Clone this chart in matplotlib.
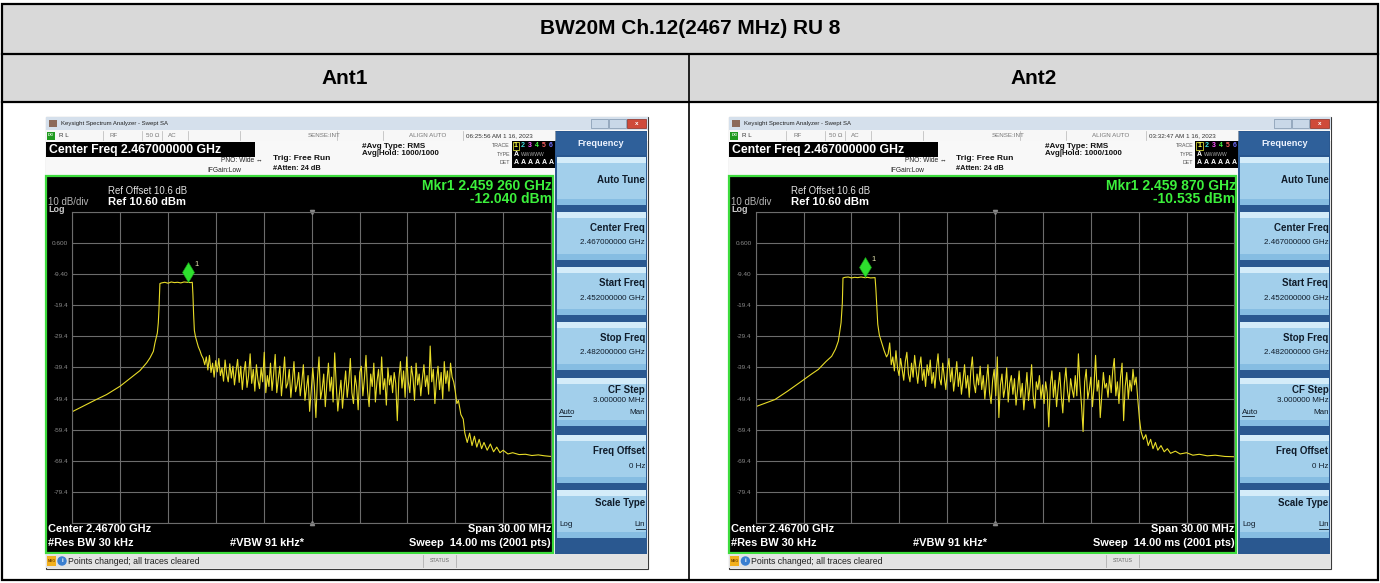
import numpy as np
import matplotlib.pyplot as plt
from matplotlib.patches import Rectangle, Circle
from matplotlib.transforms import offset_copy

plt.rcParams['font.family'] = ['Liberation Sans', 'DejaVu Sans']

W, H = 1380, 583

TITLE = 'BW20M Ch.12(2467 MHz) RU 8'
ANT_NAMES = ['Ant1', 'Ant2']

# analyzer settings shown on screen
F_START, F_STOP = 2452.0, 2482.0          # MHz
REF_LEVEL, DB_DIV = 10.6, 10.0
Y_TICKS = [10.6, 0.6, -9.4, -19.4, -29.4, -39.4, -49.4, -59.4, -69.4, -79.4, -89.4]
Y_TICK_LABELS = ['', '0.600', '-9.40', '-19.4', '-29.4', '-39.4', '-49.4',
                 '-59.4', '-69.4', '-79.4', '']
SOFTKEYS = [('Auto Tune', None), ('Center Freq', '2.467000000 GHz'),
            ('Start Freq', '2.452000000 GHz'), ('Stop Freq', '2.482000000 GHz'),
            ('CF Step', '3.000000 MHz'), ('Freq Offset', '0 Hz'),
            ('Scale Type', None)]

# ---- Ant1 trace (MHz, dBm) ----
ANT1_EDGE_F = [2452.0, 2453.0, 2453.5, 2454.15, 2455.0, 2455.8, 2456.24, 2456.66,
               2456.87, 2457.08, 2457.18, 2457.33, 2457.39, 2457.43, 2457.49, 2457.6,
               2457.8, 2458.0, 2458.2, 2458.4, 2458.6, 2458.8, 2459.0, 2459.26,
               2459.4, 2459.52, 2459.56, 2459.6, 2459.65, 2459.72, 2459.8, 2459.9,
               2460.0, 2460.1, 2460.2]
ANT1_EDGE_L = [-53.6, -51.0, -49.7, -48.1, -45.4, -42.2, -40.4, -37.9,
               -36.3, -34.2, -31.5, -28.3, -25.0, -20.8, -12.4, -12.2,
               -12.0, -12.3, -11.9, -12.1, -12.0, -12.2, -11.9, -12.04,
               -12.1, -12.0, -16.0, -22.0, -27.5, -29.5, -31.0, -32.8,
               -34.0, -35.5, -36.5]
ANT1_NOISE_SPAN = (2460.3, 2475.9)
ANT1_NOISE_L = [
    -38.5, -36.0, -40.2, -35.5, -41.0, -38.0, -42.5, -37.2, -40.8, -36.5,
    -42.0, -39.5, -43.8, -37.0, -41.5, -44.0, -38.2, -42.8, -39.0, -45.0,
    -40.5, -36.8, -44.2, -39.0, -46.5, -41.0, -37.5, -45.8, -42.0, -35.0,
    -44.5, -40.0, -47.0, -38.5, -43.5, -46.2, -39.5, -44.0, -34.5, -47.5,
    -42.0, -45.5, -38.0, -46.8, -41.5, -35.2, -47.5, -43.0, -39.0, -48.5,
    -42.5, -36.0, -46.0, -44.5, -40.0, -49.0, -43.5, -37.5, -47.2, -45.0,
    -41.0, -48.5, -44.0, -38.5, -50.0, -46.0, -42.0, -53.5, -47.0, -39.5,
    -45.5, -55.5, -43.0, -36.0, -49.5, -46.5, -41.5, -52.0, -44.5, -38.0,
    -47.0, -42.5, -50.5, -34.7, -45.0, -53.4, -48.0, -43.5, -52.5, -46.0,
    -40.5, -49.0, -44.0, -36.5, -47.5, -51.0, -42.0, -45.5, -53.0, -41.0,
    -39.0, -48.5, -43.0, -35.5, -47.0, -52.0, -41.5, -45.5, -38.0, -50.5,
    -44.0, -40.0, -48.0, -36.0, -46.5, -43.0, -51.5, -39.5, -45.0, -42.0,
    -47.5, -41.0, -44.5, -56.5, -43.0, -37.5, -46.0, -40.5, -49.0, -36.0,
    -44.0, -47.5, -39.0, -42.5, -50.0, -38.0, -45.0, -41.5, -48.5, -43.0,
    -38.5, -45.5, -42.0, -48.0, -32.5, -44.0, -40.0, -51.0, -43.5, -39.0,
    -46.5, -41.0, -49.5, -37.5, -44.5, -40.5, -47.0, -38.0, -42.5, -44.0]
ANT1_TAIL_F = [2476.0, 2476.1, 2476.2, 2476.35, 2476.5, 2476.6, 2476.75, 2476.9,
               2477.05, 2477.2, 2477.35, 2477.5, 2477.65, 2477.8, 2478.0, 2478.2,
               2478.4, 2478.6, 2478.8, 2479.0, 2479.3, 2479.6, 2480.0, 2480.4,
               2480.8, 2481.2, 2481.6, 2482.0]
ANT1_TAIL_L = [-47.0, -51.0, -50.0, -54.5, -56.0, -60.5, -63.5, -60.5,
               -64.5, -61.5, -65.0, -62.5, -65.5, -63.5, -66.0, -64.0,
               -66.5, -65.0, -66.8, -66.0, -67.2, -66.8, -67.4, -67.3,
               -67.7, -67.5, -67.8, -68.0]
ANT1_MKR = (2459.26, -12.040)

# ---- Ant2 trace (MHz, dBm) ----
ANT2_EDGE_F = [2452.0, 2453.21, 2454.0, 2454.88, 2455.5, 2455.93, 2456.4, 2456.76,
               2457.0, 2457.18, 2457.35, 2457.43, 2457.47, 2457.6, 2457.8, 2458.0,
               2458.2, 2458.4, 2458.6, 2458.87, 2459.0, 2459.2, 2459.48, 2459.53,
               2459.58, 2459.65, 2459.75, 2459.9, 2460.05, 2460.2]
ANT2_EDGE_L = [-52.0, -49.7, -47.0, -43.8, -41.5, -40.0, -37.5, -35.8,
               -33.5, -30.9, -25.0, -18.6, -10.6, -10.4, -10.3, -10.6,
               -10.4, -10.5, -10.3, -10.535, -10.4, -10.6, -10.5, -14.0,
               -18.6, -25.5, -29.0, -31.5, -34.0, -36.0]
ANT2_NOISE_SPAN = (2460.3, 2475.84)
ANT2_NOISE_L = [
    -35.0, -31.5, -38.5, -36.0, -40.5, -34.0, -39.5, -42.0, -36.5, -40.0,
    -43.5, -37.5, -34.5, -41.5, -44.0, -38.0, -42.5, -35.5, -40.5, -44.5,
    -39.0, -36.0, -43.5, -40.0, -45.5, -38.5, -42.0, -37.0, -44.5, -41.0,
    -46.0, -39.5, -35.0, -43.0, -45.0, -38.0, -42.5, -46.5, -40.0, -36.5,
    -44.0, -39.5, -47.0, -42.5, -37.5, -45.5, -41.0, -48.0, -43.5, -38.5,
    -46.0, -42.0, -49.0, -40.5, -36.0, -44.5, -47.5, -41.5, -45.0, -39.0,
    -46.5, -42.0, -49.5, -44.0, -38.5, -47.5, -51.0, -43.5, -40.0, -48.5,
    -36.0, -55.5, -45.0, -41.5, -49.0, -46.0, -39.5, -50.5, -44.5, -42.0,
    -48.0, -43.0, -51.5, -46.5, -40.5, -49.0, -44.5, -53.0, -47.0, -41.0,
    -50.0, -45.5, -38.5, -48.5, -52.5, -44.0, -46.5, -42.0, -49.5, -45.0,
    -51.0, -44.0, -47.5, -58.5, -45.0, -40.5, -49.0, -43.5, -52.0, -46.0,
    -41.0, -48.5, -54.0, -44.5, -39.5, -47.0, -50.5, -43.0, -46.5, -49.0,
    -42.0, -48.5, -35.0, -45.0, -51.5, -60.0, -44.0, -40.0, -49.5, -46.5,
    -42.5, -52.0, -45.5, -35.5, -47.0, -43.5, -55.5, -48.0, -41.0, -46.0,
    -44.5, -49.0, -42.0, -47.5, -40.5, -36.5, -48.5, -44.0, -51.0, -42.5,
    -38.0, -56.5, -45.5, -41.0, -49.5, -43.5, -47.0, -40.0, -45.0, -42.5]
ANT2_TAIL_F = [2475.95, 2476.05, 2476.15, 2476.3, 2476.45, 2476.6, 2476.75, 2476.9,
               2477.05, 2477.2, 2477.4, 2477.6, 2477.8, 2478.0, 2478.3, 2478.6,
               2479.0, 2479.4, 2479.8, 2480.3, 2480.8, 2481.4, 2482.0]
ANT2_TAIL_L = [-50.0, -56.0, -60.0, -62.5, -61.0, -64.5, -62.5, -65.5,
               -63.5, -66.0, -64.5, -66.5, -65.5, -67.0, -66.3, -67.2,
               -66.8, -67.6, -67.3, -67.8, -67.6, -68.0, -68.1]
ANT2_MKR = (2458.87, -10.535)


def build_trace(edge_f, edge_l, span, noise_l, tail_f, tail_l):
    noise_f = np.linspace(span[0], span[1], len(noise_l))
    f = np.concatenate([edge_f, noise_f, tail_f])
    l = np.concatenate([edge_l, noise_l, tail_l])
    return f, l


def draw_screen(fig, bg, x0, y0, freq, level, mkr, stamp):
    def R(rx, ry, w, h, fc, ec='none', lw=0, z=1):
        bg.add_patch(Rectangle((x0 + rx, y0 + ry), w, h, facecolor=fc,
                               edgecolor=ec, linewidth=lw, zorder=z))

    def T(rx, ry, s, size, color='#111111', ha='left', weight='normal', z=3):
        bg.text(x0 + rx, y0 + ry, s, fontsize=size, color=color, ha=ha,
                va='center', fontweight=weight, zorder=z)

    def UL(rx, ry, w, color):
        bg.plot([x0 + rx, x0 + rx + w], [y0 + ry, y0 + ry], color=color,
                lw=0.6, zorder=4)

    # window frame + title bar
    R(0, 0, 602, 452, '#f2f2f2', ec='#3a3a3a', lw=0.8)
    R(0, 0, 602, 13, '#d5e0ec')
    R(3, 3, 8, 7, '#8c6a5a')
    T(15, 6.5, 'Keysight Spectrum Analyzer - Swept SA', 4.3, '#222222')
    R(545, 2, 17, 9, '#c9d8e8', ec='#7f95ad', lw=0.5, z=2)
    R(563, 2, 17, 9, '#c9d8e8', ec='#7f95ad', lw=0.5, z=2)
    R(581, 2, 19, 9, '#cf4a3a', ec='#8a2a20', lw=0.5, z=2)
    T(590.5, 6.5, 'x', 4.5, 'white', ha='center', weight='bold')

    # status row
    R(0, 13, 602, 11, '#f7f7f7')
    for sx in [57, 96, 116, 142, 194, 291, 337, 417, 509]:
        bg.plot([x0 + sx, x0 + sx], [y0 + 14, y0 + 23], color='#b5b5b5',
                lw=0.5, zorder=2)
    R(1, 14.5, 8, 8, '#1f9a1f', z=2)
    T(5, 18.5, 'LXI', 2.6, 'white', ha='center', weight='bold')
    T(13, 18.5, 'R L', 4.5, '#333333')
    T(64, 18.5, 'RF', 4.5, '#777777')
    T(100, 18.5, '50 Ω', 4.5, '#777777')
    T(122, 18.5, 'AC', 4.5, '#777777')
    T(262, 18.5, 'SENSE:INT', 4.5, '#777777')
    T(363, 18.5, 'ALIGN AUTO', 4.5, '#777777')
    T(420, 18.5, stamp, 4.5, '#333333')

    # settings header
    R(0, 24, 509, 35, '#f8f8f8')
    R(0, 25, 209, 15, 'black', z=2)
    T(3, 32.5, 'Center Freq 2.467000000 GHz', 8.8, 'white', weight='bold')
    T(217, 43, 'PNO: Wide ↔', 4.8, '#222222', ha='right')
    T(161, 53, 'IFGain:Low', 4.8, '#222222')
    T(227, 42, 'Trig: Free Run', 6.0, '#111111', weight='bold')
    T(227, 51.5, '#Atten: 24 dB', 5.3, '#111111', weight='bold')
    T(316, 29, '#Avg Type: RMS', 5.9, '#111111', weight='bold')
    T(316, 36.5, 'Avg|Hold: 1000/1000', 5.7, '#111111', weight='bold')
    R(466, 24, 43, 27, 'black', z=2)
    T(464, 28.5, 'TRACE', 3.8, '#555555', ha='right')
    T(464, 37, 'TYPE', 3.8, '#555555', ha='right')
    T(464, 45.5, 'DET', 3.8, '#555555', ha='right')
    trace_cols = ['#ffff40', '#40e0e0', '#ff55ff', '#44ff44', '#ff6060', '#7070ff']
    for k, c in enumerate(trace_cols):
        T(470 + 7 * k, 28.5, str(k + 1), 5.0, c, ha='center', weight='bold')
        T(470 + 7 * k, 45.5, 'A', 5.0, 'white', ha='center', weight='bold')
    R(466.8, 25, 6.5, 7.5, 'none', ec='#ffff40', lw=0.5, z=3)
    T(470, 37, 'A', 5.0, 'white', ha='center', weight='bold')
    T(475, 37, 'WWWWW', 3.6, '#aaaaaa')

    # graticule frame
    R(0, 59, 507, 377, 'black', ec='#3ddc3d', lw=1.6)
    T(2, 85, '10 dB/div', 7.0, '#b5b5b5')
    T(2, 92.5, 'Log', 6.5, '#c8c8c8', weight='bold')
    T(62, 74, 'Ref Offset 10.6 dB', 6.9, '#e0e0e0')
    T(62, 85, 'Ref 10.60 dBm', 8.1, 'white', weight='bold')
    T(506, 69, 'Mkr1 %.3f %03d GHz' % (mkr[0] / 1000.0, round(mkr[0] * 1000) % 1000),
      10.0, '#3cf03c', ha='right', weight='bold')
    T(506, 82, '%.3f dBm' % mkr[1], 10.0, '#3cf03c', ha='right', weight='bold')
    T(2, 412, 'Center 2.46700 GHz', 7.9, 'white', weight='bold')
    T(2, 426, '#Res BW 30 kHz', 7.9, 'white', weight='bold')
    T(184, 426, '#VBW 91 kHz*', 7.9, 'white', weight='bold')
    T(505, 412, 'Span 30.00 MHz', 7.9, 'white', ha='right', weight='bold')
    T(505, 426, 'Sweep  14.00 ms (2001 pts)', 7.9, 'white', ha='right', weight='bold')

    # soft key panel
    R(509, 14, 92, 423, '#2a5890')
    R(510, 15, 90, 23, '#2f609a', z=2)
    T(555, 27, 'Frequency', 6.6, '#eef4ff', ha='center', weight='bold')
    tops = [40, 95, 150, 205, 261, 318, 373]
    for top, (name, val) in zip(tops, SOFTKEYS):
        R(511, top, 89, 48, '#a2cfeb', z=2)
        R(511, top, 89, 6, '#d4ecf9', z=2)
        R(511, top + 42, 89, 6, '#86bde2', z=2)
        if val is None and name == 'Auto Tune':
            T(599, top + 23, name, 7.0, '#101c2a', ha='right', weight='bold')
        elif name == 'CF Step':
            T(599, top + 12, name, 7.0, '#101c2a', ha='right', weight='bold')
            T(599, top + 23, val, 5.8, '#101c2a', ha='right')
            T(513, top + 34, 'Auto', 5.8, '#101c2a')
            UL(513, top + 38, 12, '#101c2a')
            T(599, top + 34, 'Man', 5.8, '#101c2a', ha='right')
        elif name == 'Scale Type':
            T(599, top + 13, name, 7.0, '#101c2a', ha='right', weight='bold')
            T(513, top + 35, 'Log', 5.8, '#101c2a')
            T(599, top + 35, 'Lin', 5.8, '#101c2a', ha='right')
            UL(590, top + 39, 9, '#101c2a')
        else:
            T(599, top + 16, name, 7.0, '#101c2a', ha='right', weight='bold')
            T(599, top + 31, val, 5.8, '#101c2a', ha='right')

    # message bar
    R(0, 437, 602, 14, '#e3e3e3', z=2)
    R(1, 439, 9, 10, '#f2b01e', z=3)
    T(5.5, 444, 'MSG', 2.6, '#7a4a00', ha='center', weight='bold', z=4)
    bg.add_patch(Circle((x0 + 16, y0 + 444), 4, color='#3a7fd0', zorder=3))
    T(16, 444, 'i', 4.5, 'white', ha='center', weight='bold', z=4)
    T(22, 444, 'Points changed; all traces cleared', 6.3, '#222222', z=4)
    for sx in [377, 410]:
        bg.plot([x0 + sx, x0 + sx], [y0 + 438, y0 + 450], color='#b0b0b0',
                lw=0.6, zorder=4)
    T(393.5, 444, 'STATUS', 3.8, '#666666', ha='center', z=4)

    # spectrum graticule
    ax = fig.add_axes([(x0 + 26.3) / W, (H - (y0 + 406)) / H, 478.7 / W, 311 / H])
    ax.set_facecolor('black')
    ax.plot(freq, level, color='#e8dc28', lw=0.8)
    ax.set_xlim(F_START, F_STOP)
    ax.set_ylim(REF_LEVEL - 10 * DB_DIV, REF_LEVEL)
    ax.set_xticks(np.linspace(F_START, F_STOP, 11))
    ax.set_yticks(Y_TICKS, Y_TICK_LABELS)
    ax.grid(True, color='#6c6c6c', lw=0.8)
    ax.tick_params(length=0, labelbottom=False, labelsize=4.6,
                   labelcolor='#8a8a8a', pad=3)
    for s in ax.spines.values():
        s.set_color('#6c6c6c')
    cf = (F_START + F_STOP) / 2
    ax.plot([cf], [REF_LEVEL], marker='v', ms=3, color='#888888', clip_on=False)
    ax.plot([cf], [REF_LEVEL - 10 * DB_DIV], marker='^', ms=3, color='#888888',
            clip_on=False)
    tr = offset_copy(ax.transData, fig=fig, x=0, y=10.5, units='dots')
    ax.plot([mkr[0]], [mkr[1]], marker='d', ms=10, color='#2ee02e',
            mec='#17a017', mew=0.4, transform=tr)
    tr2 = offset_copy(ax.transData, fig=fig, x=6, y=18, units='dots')
    ax.text(mkr[0], mkr[1], '1', transform=tr2, fontsize=5.5, color='#e6e6b0',
            va='center')


fig = plt.figure(figsize=(W / 100, H / 100), dpi=100)
bg = fig.add_axes([0, 0, 1, 1])
bg.set_xlim(0, W)
bg.set_ylim(H, 0)
bg.axis('off')

# table
bg.add_patch(Rectangle((2, 4), 1376, 98, facecolor='#d9d9d9', edgecolor='none'))
bg.add_patch(Rectangle((2, 4), 1376, 576, facecolor='none', edgecolor='black',
                       linewidth=1.6, zorder=5))
bg.plot([2, 1378], [54, 54], color='black', lw=1.6, zorder=5)
bg.plot([2, 1378], [102, 102], color='black', lw=1.6, zorder=5)
bg.plot([689, 689], [54, 580], color='black', lw=1.2, zorder=5)
bg.text(690, 29, TITLE, fontsize=15, fontweight='bold', ha='center', va='center')
bg.text(345, 78, ANT_NAMES[0], fontsize=15, fontweight='bold', ha='center', va='center')
bg.text(1034, 78, ANT_NAMES[1], fontsize=15, fontweight='bold', ha='center', va='center')

f1, l1 = build_trace(ANT1_EDGE_F, ANT1_EDGE_L, ANT1_NOISE_SPAN, ANT1_NOISE_L,
                     ANT1_TAIL_F, ANT1_TAIL_L)
f2, l2 = build_trace(ANT2_EDGE_F, ANT2_EDGE_L, ANT2_NOISE_SPAN, ANT2_NOISE_L,
                     ANT2_TAIL_F, ANT2_TAIL_L)
draw_screen(fig, bg, 46, 117, f1, l1, ANT1_MKR, '06:25:56 AM 1 16, 2023')
draw_screen(fig, bg, 729.4, 117, f2, l2, ANT2_MKR, '03:32:47 AM 1 16, 2023')

fig.savefig('out.png', dpi=100)
